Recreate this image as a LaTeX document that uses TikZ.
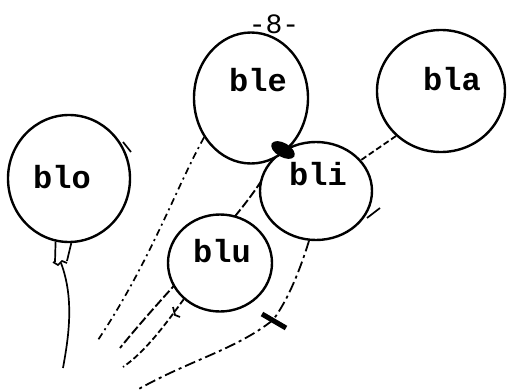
\documentclass[tikz,border=0pt]{standalone}
\usepackage{fontspec}
\setmonofont{Liberation Mono}
\usetikzlibrary{shapes.geometric}
\pgfdeclarelayer{bg}
\pgfsetlayers{bg,main}
\begin{document}
\begin{tikzpicture}[x=1pt,y=-1pt,
  balloon/.style={draw, ellipse, fill=white, line width=2.4pt, inner sep=0pt},
  lbl/.style={font=\ttfamily\bfseries\fontsize{32}{32}\selectfont, inner sep=0pt},
  pagenum/.style={font=\ttfamily\fontsize{28}{28}\selectfont, inner sep=0pt},
  strdot/.style={line width=1.7pt, dash pattern=on 7pt off 4pt on 2pt off 4pt},
  strdash/.style={line width=1.9pt, dash pattern=on 9pt off 3pt},
  strlong/.style={line width=1.8pt, dash pattern=on 11pt off 4pt on 3pt off 4pt},
  strshort/.style={line width=1.8pt, dash pattern=on 6pt off 3pt},
  strsolid/.style={line width=1.7pt},
  tickline/.style={line width=1.7pt}]
\useasboundingbox (0,0) rectangle (507,391);

% balloons
\node[balloon, minimum width=122pt, minimum height=127pt] (blo) at (69,178.5) {};
\node[balloon, minimum width=112pt, minimum height=98pt] (bli) at (316,191) {};
\node[balloon, minimum width=114pt, minimum height=131pt] (ble) at (251,98) {};
\node[balloon, minimum width=128pt, minimum height=122pt] (bla) at (441,91) {};
\node[balloon, minimum width=104pt, minimum height=97pt] (blu) at (220,263) {};

% labels
\node[lbl] (tblo) at (62,177) {blo};
\node[lbl] (tble) at (258,80) {ble};
\node[lbl] (tbli) at (318,174) {bli};
\node[lbl] (tbla) at (452,79) {bla};
\node[lbl] (tblu) at (222,251) {blu};
\node[pagenum] (page) at (274,24) {-8-};

% free ends and knots
\coordinate (e1) at (98,340);
\coordinate (e2) at (120,348);
\coordinate (e3) at (137,390);
\coordinate (e4) at (123,367);
\coordinate (e5) at (63,368);
\coordinate (tie) at (273,320);
\coordinate (knot) at (61,263);
\coordinate (blob) at (283,150);

\begin{pgfonlayer}{bg}
  \draw[strdot] (ble.220) .. controls (175,190) and (150,262) .. (e1);
  \draw[strdash] (ble.290) .. controls (250,210) and (175,280) .. (e2);
  \draw[strlong] (bli.262) .. controls (300,270) and (288,300) .. (tie)
        .. controls (235,350) and (190,360) .. (e3);
  \draw[strshort] (blu.225) .. controls (165,325) and (145,352) .. (e4);
  \draw[strshort] (bla.225) -- (bli.center);
\end{pgfonlayer}

% blo neck and string
\draw[strsolid] (blo.258) -- (55,262);
\draw[strsolid] (blo.272) -- (67,261);
\draw[strsolid] (53,262) -- (58,265) -- (62,261) -- (67,263);
\draw[strsolid] (knot) .. controls (75,300) and (68,340) .. (e5);

% marks
\fill[rotate around={-30:(blob)}] (blob) ellipse (13pt and 7pt);
\draw[line width=5pt] (262,314) -- (286,328);
\draw[tickline] (173,307) -- (175,315) -- (180,317);
\draw[tickline] (123,142) -- (131,152);
\draw[tickline] (367,218) -- (380,208);
\end{tikzpicture}
\end{document}
